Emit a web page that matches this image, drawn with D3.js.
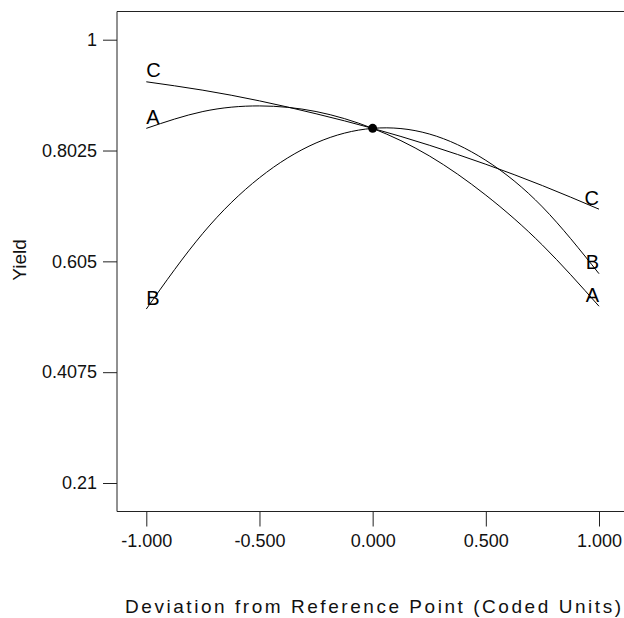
<!DOCTYPE html>
<html lang="en">
  <head>
    <meta charset="UTF-8" />
    <title>Trace plot - Yield</title>
    <script src="https://d3js.org/d3.v7.min.js"></script>
    <style>
      body {
        margin: 0;
        background: white;
        font-family: Arial, "Liberation Sans", sans-serif;
      }
      .axis text {
        font-size: 18px;
        fill: #111;
      }
      .axis path,
      .axis line {
        stroke: #222;
        stroke-width: 1px;
      }
      .trace {
        fill: none;
        stroke: #000;
        stroke-width: 1px;
      }
      .trace-label {
        font-size: 20px;
        fill: #000;
      }
    </style>
  </head>
  <body>
    <div id="chart"></div>
    <script>
      // coded deviation from the reference point
      const deviation = [-1, -0.75, -0.5, -0.25, 0, 0.25, 0.5, 0.75, 1];
      // yield
      const traceA = [0.842, 0.872, 0.882, 0.872, 0.842, 0.793, 0.723, 0.634, 0.525];
      const traceB = [0.52, 0.655, 0.754, 0.816, 0.842, 0.832, 0.785, 0.702, 0.583];
      const traceC = [0.925, 0.91, 0.891, 0.868, 0.842, 0.812, 0.778, 0.74, 0.698];
      const traceNames = ["A", "B", "C"];
      const refPoint = { x: 0, y: 0.842 };

      const xTicks = [-1, -0.5, 0, 0.5, 1];
      const yTicks = [0.21, 0.4075, 0.605, 0.8025, 1];

      const width = 624;
      const height = 618;

      const svg = d3
        .select("#chart")
        .append("svg")
        .attr("width", width)
        .attr("height", height);

      const x = d3.scaleLinear().domain([-1, 1]).range([146.3, 599]);
      const y = d3.scaleLinear().domain([0.21, 1]).range([483, 39.7]);

      const plotLeft = 117;
      const plotTop = 11.5;
      const plotBottom = 511.5;

      // frame (right side runs off the picture)
      svg
        .append("path")
        .attr("d", `M${width + 5},${plotTop}H${plotLeft}V${plotBottom}H${width + 5}`)
        .attr("fill", "none")
        .attr("stroke", "#222");

      svg
        .append("g")
        .attr("class", "axis")
        .attr("transform", `translate(0,${plotBottom})`)
        .call(
          d3
            .axisBottom(x)
            .tickValues(xTicks)
            .tickSize(15)
            .tickPadding(8)
            .tickFormat((d) => d.toFixed(3))
        )
        .call((g) => g.select(".domain").remove());

      svg
        .append("g")
        .attr("class", "axis")
        .attr("transform", `translate(${plotLeft},0)`)
        .call(
          d3
            .axisLeft(y)
            .tickValues(yTicks)
            .tickSize(14)
            .tickPadding(6)
            .tickFormat((d) => String(d))
        )
        .call((g) => g.select(".domain").remove());

      const traces = traceNames.map((name, i) => ({
        name,
        values: [traceA, traceB, traceC][i].map((v, j) => ({ x: deviation[j], y: v })),
      }));

      const line = d3
        .line()
        .x((d) => x(d.x))
        .y((d) => y(d.y))
        .curve(d3.curveNatural);

      svg
        .selectAll(".trace")
        .data(traces)
        .enter()
        .append("path")
        .attr("class", "trace")
        .attr("d", (d) => line(d.values));

      // letters at both ends of each trace
      traces.forEach((t) => {
        const first = t.values[0];
        const last = t.values[t.values.length - 1];
        svg
          .append("text")
          .attr("class", "trace-label")
          .attr("x", x(first.x))
          .attr("y", y(first.y) - 4.5)
          .text(t.name);
        svg
          .append("text")
          .attr("class", "trace-label")
          .attr("text-anchor", "end")
          .attr("x", x(last.x))
          .attr("y", y(last.y) - 4.5)
          .text(t.name);
      });

      svg
        .append("circle")
        .attr("cx", x(refPoint.x))
        .attr("cy", y(refPoint.y))
        .attr("r", 4.5)
        .attr("fill", "#000");

      svg
        .append("text")
        .attr("x", 373)
        .attr("y", 613)
        .attr("text-anchor", "middle")
        .attr("font-size", 19)
        .attr("textLength", 496)
        .attr("lengthAdjust", "spacing")
        .attr("fill", "#111")
        .text("Deviation from Reference Point (Coded Units)");

      svg
        .append("text")
        .attr("transform", "translate(25.5,260) rotate(-90)")
        .attr("text-anchor", "middle")
        .attr("font-size", 19)
        .attr("fill", "#111")
        .text("Yield");
    </script>
  </body>
</html>
